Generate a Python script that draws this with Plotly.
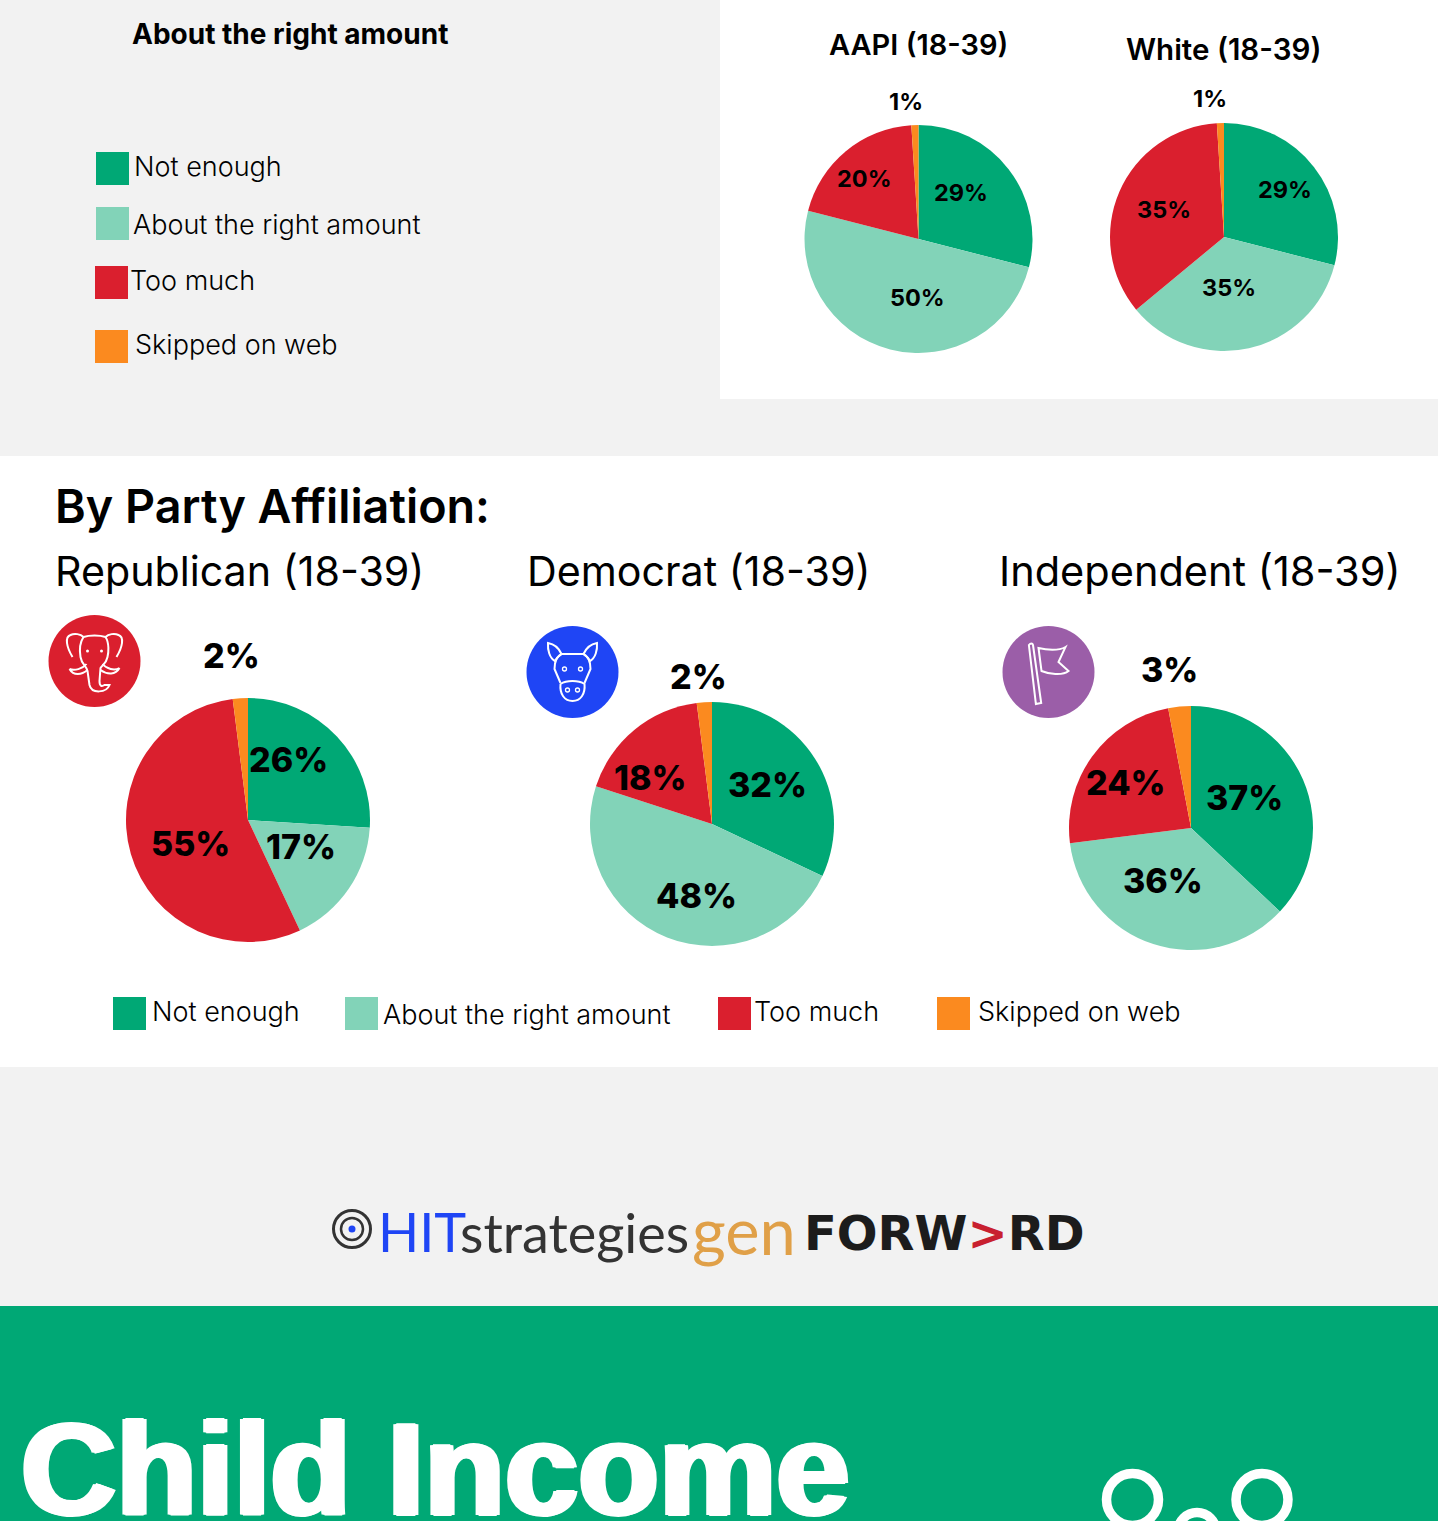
import plotly.graph_objects as go

W, H = 1438, 1521
# ---------- data ----------
categories = ["Not enough", "About the right amount", "Too much", "Skipped on web"]
aapi = [29, 50, 20, 1]
white = [29, 35, 35, 1]
republican = [26, 17, 55, 2]
democrat = [32, 48, 18, 2]
independent = [37, 36, 24, 3]
colors = ["#00A875", "#82D3B8", "#DA1F2E", "#FB8A1F"]

# ---------- layout constants ----------
GREY = "#F2F2F2"
pies = [
    (aapi, 918.5, 239, 114, [(960.5, 192), (917, 297), (864.5, 178), (906, 101)], 23.5),
    (white, 1224, 237, 114, [(1284.5, 189), (1228.5, 287), (1164, 209), (1210, 98)], 23.5),
    (republican, 248, 820, 122, [(288, 759.5), (300.5, 846.5), (190, 843.5), (231.5, 655.5)], 34),
    (democrat, 712, 824, 122, [(767.5, 784.5), (696.5, 895.5), (650, 777.5), (698.5, 676.5)], 34),
    (independent, 1191, 828, 122, [(1244.5, 797.5), (1162.5, 880.5), (1126, 782.5), (1169, 669.5)], 34),
]

fig = go.Figure()
# invisible trace keeps the pixel-based cartesian axes alive for shapes and text
fig.add_trace(go.Scatter(x=[0, W], y=[0, H], mode="markers", marker=dict(opacity=0),
                         hoverinfo="skip", showlegend=False))

shapes, annos = [], []


def rect(x0, y0, x1, y1, color):
    shapes.append(dict(type="rect", xref="x", yref="y", x0=x0, y0=y0, x1=x1, y1=y1,
                       fillcolor=color, line_width=0, layer="below"))


def circle(cx, cy, r, fill=None, line=None, lw=0):
    shapes.append(dict(type="circle", xref="x", yref="y", x0=cx - r, y0=cy - r, x1=cx + r, y1=cy + r,
                       fillcolor=fill or "rgba(0,0,0,0)", line=dict(color=line or "rgba(0,0,0,0)", width=lw),
                       layer="below"))


def path(d, color="white", lw=2, fill=None):
    shapes.append(dict(type="path", xref="x", yref="y", path=d, layer="below",
                       fillcolor=fill or "rgba(0,0,0,0)", line=dict(color=color, width=lw)))


def icon(cx, cy, segments):
    """segments are written relative to the icon centre."""
    for seg in segments:
        out, is_x = [], True
        for tok in seg.split():
            if tok.isalpha():
                out.append(tok)
                is_x = True
            else:
                out.append(str(float(tok) + (cx if is_x else cy)))
                is_x = not is_x
        path(" ".join(out))


def text(x, y, s, size, weight=400, color="black", anchor="left", family="Inter", shadow=None):
    f = dict(size=size, color=color, family=family, weight=weight)
    if shadow:
        f["shadow"] = shadow
    annos.append(dict(x=x, y=y, xref="x", yref="y", text=s, showarrow=False, xanchor=anchor,
                      yanchor="middle", font=f, borderpad=0, borderwidth=0))


# ---------- panels ----------
rect(720, 0, W, 399, "white")
rect(0, 456, W, 1067, "white")
rect(0, 1306, W, H, "#00A875")

# ---------- pies ----------
for vals, cx, cy, r, labelpos, size in pies:
    fig.add_trace(go.Pie(labels=categories, values=vals, sort=False, direction="clockwise", rotation=0,
                         textinfo="none", hoverinfo="skip", showlegend=False,
                         marker=dict(colors=colors, line=dict(width=0)),
                         domain=dict(x=[(cx - r) / W, (cx + r) / W], y=[1 - (cy + r) / H, 1 - (cy - r) / H])))
    for v, (x, y) in zip(vals, labelpos):
        text(x, y, f"{v}%", size, 800 if size > 30 else 700, anchor="center")

# ---------- titles ----------
text(290, 34, "About the right amount", 28, 700, anchor="center")
text(918, 44, "AAPI (18-39)", 29, 600, anchor="center")
text(1223, 49, "White (18-39)", 29.5, 600, anchor="center")
text(55, 506, "By Party Affiliation:", 46.7, 600)
text(55, 571, "Republican (18-39)", 41.2, 400)
text(527, 571, "Democrat (18-39)", 41.2, 400)
text(999, 571, "Independent (18-39)", 41.5, 400)

# ---------- legends ----------
for (x, y, tx, ty), c, lab in zip([(96, 152, 134, 166), (96, 207, 133, 224), (95, 266, 130, 280), (95, 330, 135, 344)],
                                  colors, categories):
    rect(x, y, x + 33, y + 33, c)
    text(tx, ty, lab, 27, 300)
for (x, y, tx, ty), c, lab in zip([(113, 997, 152, 1011), (345, 997, 383, 1014), (718, 997, 754, 1011), (937, 997, 978, 1011)],
                                  colors, categories):
    rect(x, y, x + 33, y + 33, c)
    text(tx, ty, lab, 27, 300)

# ---------- party icons ----------
circle(94.5, 661, 46, "#DA1F2E")
circle(572.5, 672, 46, "#1F45F5")
circle(1048.5, 672, 46, "#9B5EA8")

icon(94.5, 661, [
    "M -22 -4 C -28 -14 -30 -24 -24 -26 C -20 -28 -14 -27 -11 -24",
    "M 22 -4 C 28 -14 30 -24 24 -26 C 20 -28 14 -27 11 -24",
    "M -11 -24 C -5 -26 5 -26 11 -24 C 15 -18 14 -8 13 -4 C 12 2 8 4 6 7 L 5 20 C 5 25 7 26 10 24 L 15 24 C 12 32 -3 33 -5 24 L -7 10 C -8 5 -13 3 -14 -4 C -15 -10 -15 -18 -11 -24",
    "M -25 8 C -20 10 -12 8 -8 3 M -25 8 C -21 15 -13 14 -7 9",
    "M 25 7 C 20 10 12 8 8 3 M 25 7 C 21 14 13 14 6 9",
])
circle(94.5 - 7, 651, 1.5, "white")
circle(94.5 + 7, 651, 1.5, "white")
icon(572.5, 672, [
    "M -11 -18 C -14 -25 -19 -28 -24.5 -29 C -25 -22 -23 -14 -17.5 -11 C -16 -14 -14 -16 -11 -18",
    "M 11 -18 C 14 -25 19 -28 24.5 -29 C 25 -22 23 -14 17.5 -11 C 16 -14 14 -16 11 -18",
    "M -11 -18 L 11 -18 C 15 -16 18 -11 18 -3 L 12 11 M -11 -18 C -15 -16 -18 -11 -18 -3 L -12 11",
    "M -12 12 C -6 8 6 8 12 12 C 13 22 8 29 0 29 C -8 29 -13 22 -12 12",
])
for dx, dy in [(-8, -3), (8, -3), (-5, 18), (5, 18)]:
    circle(572.5 + dx, 672 + dy, 2, None, "white", 1.3)
icon(1048.5, 672, [
    "M -19.6 -27 C -18 -29 -16 -29 -15.5 -27 L -7.3 31 L -12.6 32 Z",
    "M -10 -24 C -2 -22 10 -21 17 -25 L 10 -10 L 20 -1 C 14 4 0 2 -7 -1 Z",
])

# ---------- logo ----------
circle(352, 1229, 18.5, None, "#333333", 3)
circle(352, 1229, 11, None, "#333333", 2.5)
circle(352, 1229, 3.5, "#1F45F5")
text(378, 1231, "HIT", 54, 400, "#1F45F5", family="Lato")
text(460, 1232, "strategies", 54, 400, "#333333", family="Lato")
text(692, 1230, "gen", 65, 400, "#E0A048", family="Lato")
text(804, 1233, '<span style="color:#1C1C1C">FORW</span><span style="color:#C8202F">&gt;</span><span style="color:#1C1C1C">RD</span>',
     48, 700, family="DejaVu Sans")

# ---------- banner ----------
text(21, 1469, "Child Income", 132, 700, "white", family="Liberation Sans",
     shadow="3px 0 0 white, -3px 0 0 white, 1.5px 0 0 white, -1.5px 0 0 white, 0 1px 0 white, 0 -1px 0 white")
circle(1132.5, 1499.5, 26, None, "white", 9.5)
circle(1262, 1499.5, 26, None, "white", 9.5)
circle(1197, 1531.5, 19, None, "white", 9.5)

fig.update_layout(
    width=W, height=H, margin=dict(l=0, r=0, t=0, b=0, pad=0),
    paper_bgcolor=GREY, plot_bgcolor="rgba(0,0,0,0)", showlegend=False,
    xaxis=dict(range=[0, W], visible=False, fixedrange=True),
    yaxis=dict(range=[H, 0], visible=False, fixedrange=True),
    shapes=shapes, annotations=annos,
)
fig.write_html("out.html", config=dict(displayModeBar=False),
               post_script="document.body.style.margin='0';document.body.style.overflow='hidden';")
